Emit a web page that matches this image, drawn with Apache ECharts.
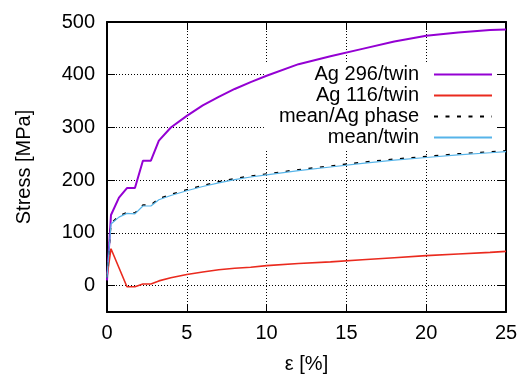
<!DOCTYPE html>
<html><head><meta charset="utf-8">
<script src="https://cdn.jsdelivr.net/npm/echarts@6/dist/echarts.min.js"></script>
<style>html,body{margin:0;padding:0;background:#fff}#c{width:524px;height:374px}</style>
</head><body><div id="c"></div>
<script>
// strain [%]
const strain = [0, 0.25, 0.75, 1.25, 1.75, 2.25, 2.75, 3.25, 4, 5, 6, 7, 8, 9, 10, 12, 14, 16, 18, 20, 22, 24, 25];
// stress [MPa]
const ag296Twin = [10, 134, 167, 185, 185, 237, 237, 275, 300, 322, 342, 358, 373, 386, 398, 420, 435, 449, 463, 474, 480, 485, 486];
const ag116Twin = [17, 70, 34, -2, -2, 3, 3, 9, 15, 21, 26, 30, 33, 35, 38, 42, 45, 49, 53, 57, 60, 63, 65];
const meanAgPhase = [15, 118, 132, 139, 138, 153, 153, 165, 173, 182, 190, 197, 203, 208, 212, 220, 227, 234, 240, 245, 250, 254, 256];
const meanTwin = [15, 117, 130, 137, 136, 151, 151, 163, 171, 180, 188, 195, 201, 206, 210, 218, 225, 232, 238, 243, 248, 252, 254];
const seriesNames = ['Ag 296/twin', 'Ag 116/twin', 'mean/Ag phase', 'mean/twin'];
const yTicks = [0, 100, 200, 300, 400, 500];
const xTicks = [0, 5, 10, 15, 20, 25];

const pair = arr => strain.map((x, i) => [x, arr[i]]);
const FONT = 'Liberation Sans';
const txt = { fontFamily: FONT, fontSize: 20, color: '#000' };

const xBase = {
  type: 'value', min: 0, max: 25, interval: 5,
  axisLine: { show: true, onZero: false, lineStyle: { color: '#000', width: 2 } },
  axisTick: { show: true, inside: true, length: 8, lineStyle: { color: '#000', width: 1 } },
};
const yBase = {
  type: 'value', min: -50, max: 500,
  axisLine: { show: true, onZero: false, lineStyle: { color: '#000', width: 2 } },
  axisTick: { show: true, inside: true, length: 8, customValues: yTicks, lineStyle: { color: '#000', width: 1 } },
};
const dotted = { show: true, lineStyle: { color: '#000', width: 1, type: [1, 2] } };

const chart = echarts.init(document.getElementById('c'), null, { renderer: 'canvas' });
chart.setOption({
  animation: false,
  backgroundColor: '#fff',
  textStyle: { fontFamily: FONT },
  grid: { left: 107, right: 18, top: 22, bottom: 62, containLabel: false, outerBoundsMode: 'none' },
  xAxis: [
    Object.assign({}, xBase, {
      position: 'bottom',
      name: 'ε [%]', nameLocation: 'middle', nameGap: 42, nameTextStyle: txt,
      axisLabel: Object.assign({ margin: 11 }, txt),
      splitLine: dotted,
    }),
    Object.assign({}, xBase, { position: 'top', axisLabel: { show: false }, splitLine: { show: false } }),
  ],
  yAxis: [
    Object.assign({}, yBase, {
      position: 'left',
      name: 'Stress [MPa]', nameLocation: 'middle', nameGap: 73, nameTextStyle: txt,
      axisLabel: Object.assign({ margin: 12, customValues: yTicks }, txt),
      splitLine: dotted,
    }),
    Object.assign({}, yBase, { position: 'right', axisLabel: { show: false }, splitLine: { show: false } }),
  ],
  legend: {
    orient: 'vertical', align: 'right', right: 27, top: 63,
    padding: [1, 4, 1, 15], z: 1,
    backgroundColor: '#fff',
    itemWidth: 58, itemHeight: 14, itemGap: 0,
    itemStyle: { opacity: 0 },
    textStyle: { fontFamily: FONT, fontSize: 20, color: '#000', lineHeight: 21, padding: [0, 10, 0, 0] },
    data: seriesNames,
  },
  series: [
    { name: seriesNames[0], type: 'line', symbol: 'none', z: 3, data: pair(ag296Twin), lineStyle: { color: '#9400d3', width: 2 }, itemStyle: { color: '#9400d3' } },
    { name: seriesNames[1], type: 'line', symbol: 'none', z: 3, data: pair(ag116Twin), lineStyle: { color: '#ea2a1e', width: 1.6 }, itemStyle: { color: '#ea2a1e' } },
    { name: seriesNames[2], type: 'line', symbol: 'none', z: 3, data: pair(meanAgPhase), lineStyle: { color: '#000', width: 1.4, type: [4, 7.5] }, itemStyle: { color: '#000' } },
    { name: seriesNames[3], type: 'line', symbol: 'none', z: 3, data: pair(meanTwin), lineStyle: { color: '#56b4e9', width: 1.2 }, itemStyle: { color: '#56b4e9' } },
  ],
});
</script>
</body></html>
